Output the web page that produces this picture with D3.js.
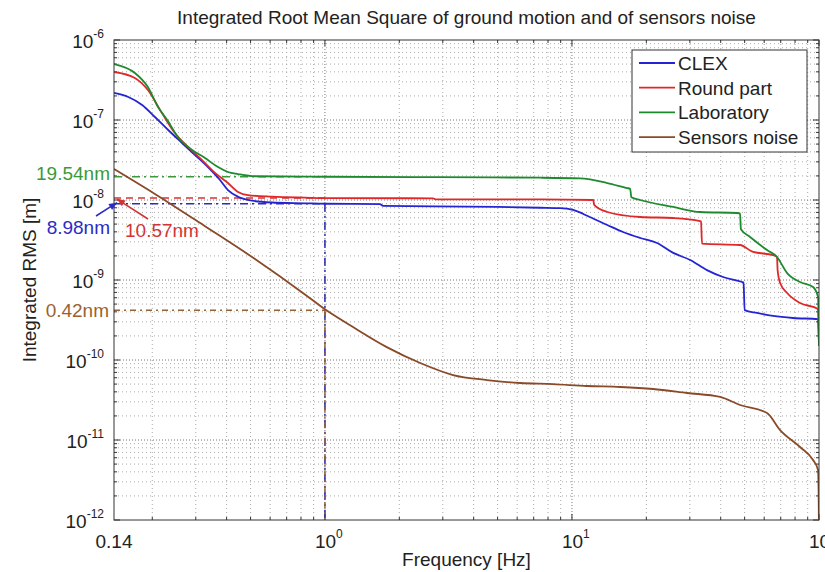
<!DOCTYPE html>
<html>
<head>
<meta charset="utf-8">
<script src="https://cdn.jsdelivr.net/npm/d3@7"></script>
<style>
  body { margin: 0; background: #fff; }
  svg { font-family: "Liberation Sans", Arial, sans-serif; }
</style>
</head>
<body>
<svg id="chart" width="825" height="572"></svg>
<script>
// series, [frequency Hz, integrated RMS m]
const seriesNames = ['CLEX', 'Round part', 'Laboratory', 'Sensors noise'];
const seriesColors = ['#2424d4', '#e02828', '#1e8a2e', '#8a4a28'];

const clex = [
  [0.14, 2.18e-7], [0.16, 1.94e-7], [0.182, 1.54e-7], [0.205, 1.09e-7], [0.232, 7.5e-8],
  [0.264, 5.16e-8], [0.298, 3.65e-8], [0.336, 2.58e-8], [0.376, 1.78e-8], [0.405, 1.33e-8],
  [0.445, 1.1e-8], [0.507, 9.8e-9], [0.611, 9.3e-9], [0.83, 9.1e-9], [1, 8.98e-9],
  [1.67, 8.9e-9], [1.72, 8.45e-9], [5, 8.2e-9], [7.43, 8.0e-9], [8.95, 7.9e-9],
  [10.1, 7.5e-9], [11.8, 6.13e-9], [13.9, 4.87e-9], [16.1, 3.98e-9], [18.9, 3.35e-9],
  [22.1, 2.9e-9], [25.7, 2.18e-9], [30.1, 1.78e-9], [35.2, 1.33e-9], [40.9, 1.09e-9],
  [48.8, 9.44e-10], [49.5, 9.3e-10], [50, 4.2e-10], [56.1, 3.87e-10], [65.2, 3.55e-10],
  [78.5, 3.35e-10], [99.1, 3.25e-10], [100, 1.5e-10]
];

const roundPart = [
  [0.14, 3.98e-7], [0.17, 3.35e-7], [0.192, 2.37e-7], [0.219, 1.22e-7], [0.247, 6.88e-8],
  [0.279, 4.6e-8], [0.318, 3.16e-8], [0.359, 2.18e-8], [0.405, 1.63e-8], [0.445, 1.26e-8],
  [0.488, 1.15e-8], [0.611, 1.1e-8], [0.83, 1.07e-8], [1, 1.057e-8], [2.74, 1.05e-8],
  [2.8, 1.02e-8], [7.43, 1.02e-8], [12.2, 1.0e-8], [12.3, 8.7e-9], [13.9, 7.08e-9],
  [18.9, 6.13e-9], [25.7, 5.96e-9], [33.0, 5.46e-9], [33.3, 5.4e-9], [33.6, 2.85e-9],
  [47.9, 2.74e-9], [54.1, 2.24e-9], [65.2, 2.05e-9], [67.6, 1.95e-9], [68, 1.33e-9],
  [69.6, 9.17e-10], [74.3, 6.88e-10], [83.8, 5.16e-10], [99.1, 4.34e-10], [100, 1.5e-10]
];

const laboratory = [
  [0.14, 5.0e-7], [0.17, 3.87e-7], [0.192, 2.58e-7], [0.211, 1.45e-7], [0.23, 1.0e-7],
  [0.254, 6.13e-8], [0.29, 4.22e-8], [0.327, 3.35e-8], [0.369, 2.58e-8], [0.405, 2.24e-8],
  [0.445, 2.11e-8], [0.521, 1.98e-8], [0.83, 1.96e-8], [1, 1.954e-8], [2.74, 1.93e-8],
  [7.43, 1.9e-8], [10.8, 1.86e-8], [13.9, 1.63e-8], [16.7, 1.41e-8], [17.2, 1.38e-8],
  [17.4, 1.08e-8], [18.9, 1.0e-8], [25.7, 8.18e-9], [33.0, 7.08e-9], [46.6, 6.88e-9],
  [47.9, 6.8e-9], [48.3, 4.3e-9], [52.6, 3.45e-9], [61.6, 2.37e-9], [67.6, 1.94e-9],
  [74.3, 1.22e-9], [83.8, 9.44e-10], [94.6, 8.18e-10], [99.1, 6.13e-10], [100, 1.5e-10]
];

const sensorsNoise = [
  [0.14, 2.44e-8], [0.205, 1.19e-8], [0.327, 4.7e-9], [0.521, 1.83e-9], [0.83, 6.6e-10],
  [1, 4.3e-10], [1.3, 2.58e-10], [1.78, 1.45e-10], [2.43, 9.17e-11],
  [3.3, 6.49e-11], [4.53, 5.62e-11], [6.16, 5.16e-11], [8.38, 5.0e-11], [11.5, 4.73e-11],
  [15.7, 4.6e-11], [21.3, 4.34e-11], [29.2, 3.87e-11], [39.8, 3.45e-11], [47.9, 2.74e-11],
  [61.6, 2.18e-11], [69.6, 1.33e-11], [83.8, 8.18e-12], [94.6, 5.62e-12], [99.1, 4.22e-12],
  [99.6, 2.4e-12], [100, 8e-13]
];

// RMS values read at 1 Hz
const markValues = [1.954e-8, 1.057e-8, 8.98e-9, 4.2e-10];
const markLabels = ['19.54nm', '10.57nm', '8.98nm', '0.42nm'];
const markColors = ['#3a9a3a', '#d23434', '#2c2cc4', '#9a6232'];
const markFreq = 1;

const yTickExps = [-6, -7, -8, -9, -10, -11, -12];
const xTickLabels = [
  { v: 0.14, base: '0.14', exp: '' },
  { v: 1, base: '10', exp: '0' },
  { v: 10, base: '10', exp: '1' },
  { v: 100, base: '10', exp: '2' }
];

const svg = d3.select('#chart');

const x = d3.scaleLog().domain([0.14, 100]).range([114, 819]);
const y = d3.scaleLog().domain([1e-12, 1e-6]).range([520, 40]);
const x0 = x.range()[0], x1 = x.range()[1];
const y0 = y.range()[0], y1 = y.range()[1];

svg.append('defs').append('clipPath').attr('id', 'clip')
  .append('rect').attr('x', x0).attr('y', y1).attr('width', x1 - x0).attr('height', y0 - y1);

// grid
const isDecade = (v) => Math.abs(Math.log10(v) - Math.round(Math.log10(v))) < 1e-6;
const grid = svg.append('g').attr('class', 'grid');
grid.selectAll('line.gx')
  .data(x.ticks().filter((d) => d > 0.14 && d < 100))
  .join('line')
  .attr('x1', (d) => x(d)).attr('x2', (d) => x(d))
  .attr('y1', y1).attr('y2', y0)
  .attr('stroke', (d) => (isDecade(d) ? '#777' : '#aaa'))
  .attr('stroke-width', 1)
  .attr('stroke-dasharray', (d) => (isDecade(d) ? '1,2' : '1,3'));
grid.selectAll('line.gy')
  .data(y.ticks().filter((d) => d > 1e-12 * 1.01 && d < 1e-6 * 0.99))
  .join('line')
  .attr('x1', x0).attr('x2', x1)
  .attr('y1', (d) => y(d)).attr('y2', (d) => y(d))
  .attr('stroke', (d) => (isDecade(d) ? '#777' : '#aaa'))
  .attr('stroke-width', 1)
  .attr('stroke-dasharray', (d) => (isDecade(d) ? '1,2' : '1,3'));

// inward ticks on all four sides
const ticks = svg.append('g').attr('stroke', '#333').attr('stroke-width', 1);
x.ticks().forEach((d) => {
  const len = isDecade(d) ? 6 : 3;
  ticks.append('line').attr('x1', x(d)).attr('x2', x(d)).attr('y1', y0).attr('y2', y0 - len);
  ticks.append('line').attr('x1', x(d)).attr('x2', x(d)).attr('y1', y1).attr('y2', y1 + len);
});
y.ticks().forEach((d) => {
  const len = isDecade(d) ? 6 : 3;
  ticks.append('line').attr('x1', x0).attr('x2', x0 + len).attr('y1', y(d)).attr('y2', y(d));
  ticks.append('line').attr('x1', x1).attr('x2', x1 - len).attr('y1', y(d)).attr('y2', y(d));
});

// annotation guide lines (drawn under the curves)
const guides = svg.append('g').attr('clip-path', 'url(#clip)').attr('fill', 'none');
const guideDash = ['8,4,2,4', '7,5', '8,4,2,4', '6,4,2,4'];
markValues.forEach((v, i) => {
  guides.append('line')
    .attr('x1', x(0.14)).attr('x2', x(markFreq))
    .attr('y1', y(v)).attr('y2', y(v))
    .attr('stroke', markColors[i]).attr('stroke-width', 1.5)
    .attr('stroke-dasharray', guideDash[i]);
});
// vertical guides at 1 Hz
guides.append('line')
  .attr('x1', x(markFreq)).attr('x2', x(markFreq))
  .attr('y1', y(markValues[2])).attr('y2', y0)
  .attr('stroke', '#2424b0').attr('stroke-width', 1.5).attr('stroke-dasharray', '8,4,2,4');
guides.append('line')
  .attr('x1', x(markFreq)).attr('x2', x(markFreq))
  .attr('y1', y(markValues[3])).attr('y2', y0)
  .attr('stroke', '#9a6232').attr('stroke-width', 1.5).attr('stroke-dasharray', '6,4,2,4');

// curves
const line = d3.line().x((d) => x(d[0])).y((d) => y(d[1])).curve(d3.curveMonotoneX);
const allSeries = [clex, roundPart, laboratory, sensorsNoise];
const curves = svg.append('g').attr('clip-path', 'url(#clip)');
[3, 0, 1, 2].forEach((i) => {
  curves.append('path')
    .datum(allSeries[i])
    .attr('d', line)
    .attr('fill', 'none')
    .attr('stroke', seriesColors[i])
    .attr('stroke-width', 1.8)
    .attr('stroke-linejoin', 'round');
});

// axes box
svg.append('rect').attr('x', x0).attr('y', y1).attr('width', x1 - x0).attr('height', y0 - y1)
  .attr('fill', 'none').attr('stroke', '#333').attr('stroke-width', 1);

// tick labels
const yLabels = svg.append('g').attr('font-size', 19).attr('fill', '#222').attr('text-anchor', 'end');
yTickExps.forEach((e) => {
  const t = yLabels.append('text').attr('x', 104).attr('y', y(Math.pow(10, e)) + 8);
  t.append('tspan').text('10');
  t.append('tspan').attr('dy', -10).attr('font-size', 12).text('-' + Math.abs(e));
});
const xLabels = svg.append('g').attr('font-size', 19).attr('fill', '#222');
xTickLabels.forEach((d) => {
  const t = xLabels.append('text').attr('y', 548);
  if (d.exp) {
    t.attr('x', x(d.v) - 10);
    t.append('tspan').text(d.base);
    t.append('tspan').attr('dy', -10).attr('font-size', 12).text(d.exp);
  } else {
    t.attr('x', x(d.v)).attr('text-anchor', 'middle').text(d.base);
  }
});

// titles
svg.append('text').attr('x', (x0 + x1) / 2).attr('y', 24).attr('text-anchor', 'middle')
  .attr('font-size', 19).attr('fill', '#222')
  .text('Integrated Root Mean Square of ground motion and of sensors noise');
svg.append('text').attr('x', (x0 + x1) / 2).attr('y', 566).attr('text-anchor', 'middle')
  .attr('font-size', 19).attr('fill', '#222').text('Frequency [Hz]');
svg.append('text').attr('transform', `translate(36, ${(y0 + y1) / 2}) rotate(-90)`)
  .attr('text-anchor', 'middle').attr('font-size', 19).attr('fill', '#222')
  .text('Integrated RMS [m]');

// value labels
const ann = svg.append('g').attr('font-size', 19);
ann.append('text').attr('x', 110).attr('y', y(markValues[0]) + 3).attr('text-anchor', 'end')
  .attr('fill', markColors[0]).text(markLabels[0]);
ann.append('text').attr('x', 125).attr('y', 237)
  .attr('fill', markColors[1]).text(markLabels[1]);
ann.append('text').attr('x', 110).attr('y', 234).attr('text-anchor', 'end')
  .attr('fill', markColors[2]).text(markLabels[2]);
ann.append('text').attr('x', 109).attr('y', y(markValues[3]) + 7).attr('text-anchor', 'end')
  .attr('fill', markColors[3]).text(markLabels[3]);

function arrow(g, xa, ya, xb, yb, color) {
  const ang = Math.atan2(yb - ya, xb - xa);
  const L = 8, W = 3.5;
  g.append('line').attr('x1', xa).attr('y1', ya).attr('x2', xb).attr('y2', yb)
    .attr('stroke', color).attr('stroke-width', 1.5);
  const p = [
    [xb, yb],
    [xb - L * Math.cos(ang) + W * Math.sin(ang), yb - L * Math.sin(ang) - W * Math.cos(ang)],
    [xb - L * Math.cos(ang) - W * Math.sin(ang), yb - L * Math.sin(ang) + W * Math.cos(ang)]
  ];
  g.append('path').attr('d', 'M' + p.join('L') + 'Z').attr('fill', color);
}
arrow(ann, 96, 216, x(0.14) + 3, y(markValues[2]) - 1, '#2c2cc4');
arrow(ann, 148, 219, x(0.14) + 3, y(markValues[1]) + 1, '#d23434');

// legend
const legend = svg.append('g');
legend.append('rect').attr('x', 632).attr('y', 50).attr('width', 175).attr('height', 102)
  .attr('fill', '#fff').attr('stroke', '#333').attr('stroke-width', 1);
seriesNames.forEach((name, i) => {
  const cy = 63 + i * 24.7;
  legend.append('line').attr('x1', 639).attr('x2', 675).attr('y1', cy).attr('y2', cy)
    .attr('stroke', seriesColors[i]).attr('stroke-width', 1.8);
  legend.append('text').attr('x', 678).attr('y', cy + 7).attr('font-size', 19)
    .attr('fill', '#222').text(name);
});
</script>
</body>
</html>
